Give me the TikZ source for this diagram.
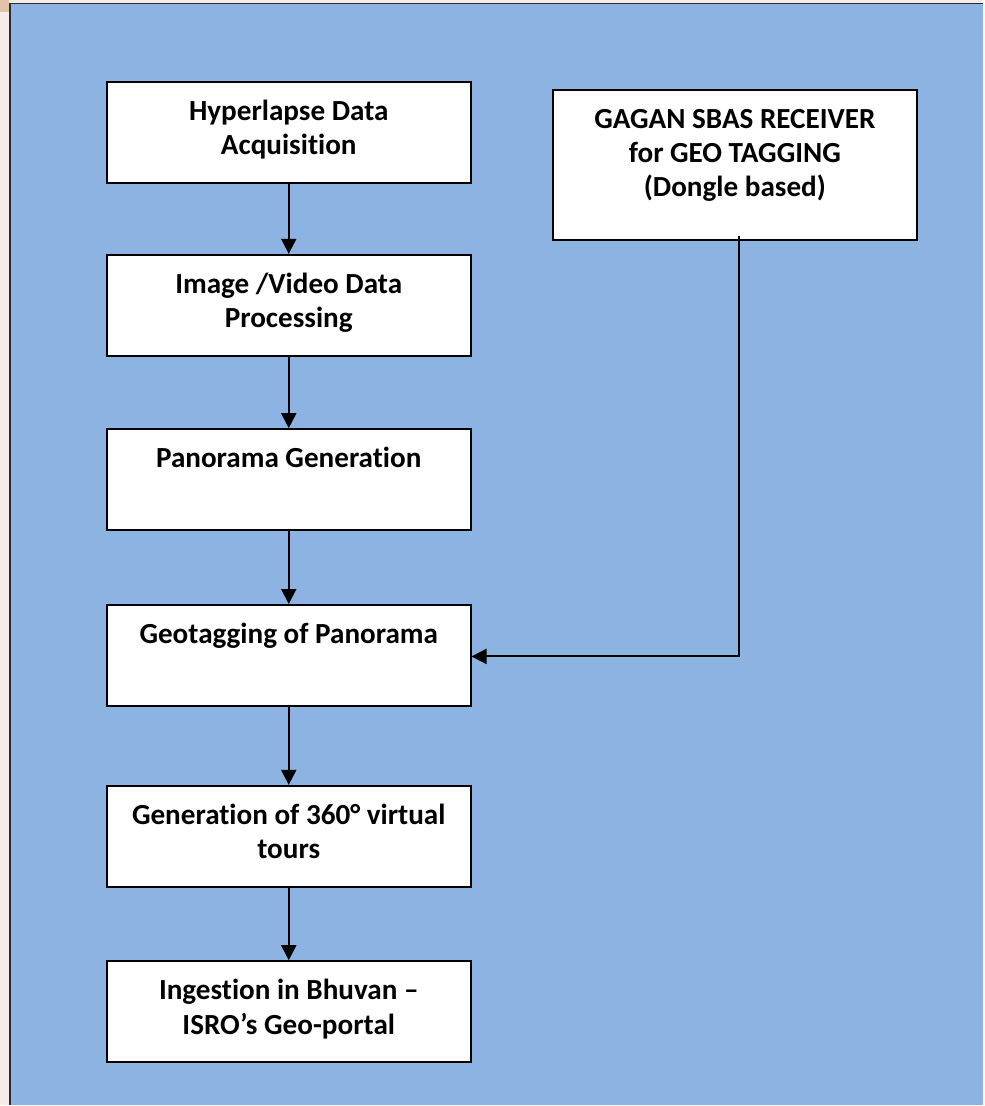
\documentclass[tikz,border=0pt]{standalone}
\usepackage{fontspec}
\setmainfont[Ligatures=NoCommon]{Carlito}
\usetikzlibrary{positioning,calc,arrows.meta}

\definecolor{pagebeige}{RGB}{246,236,231}
\definecolor{cornertan}{RGB}{226,195,168}
\definecolor{panelblue}{RGB}{141,179,226}
\definecolor{panelrim}{RGB}{40,44,52}

\tikzset{
    stage/.style={draw=black, line width=1.1pt, fill=white,
        minimum width=7.28cm, minimum height=2.02cm, inner sep=0pt},
    caption/.style={anchor=north, align=center, inner sep=0pt,
        font=\fontsize{16.6pt}{19.4pt}\selectfont\bfseries},
    flow/.style={line width=1.1pt, -{Triangle[length=0.3cm, width=0.3cm]}},
}

\begin{document}
\begin{tikzpicture}[x=0.02cm, y=-0.02cm]
    % Page and panel
    \fill[pagebeige] (0,0) rectangle (984,1106);
    \fill[cornertan] (0,0) rectangle (9,12);
    \fill[panelblue] (10,3) rectangle (984,1106);
    \draw[panelrim, line width=1.1pt] (10,1106) -- (10,3.5) -- (984,3.5);
    \useasboundingbox (0,0) rectangle (984,1106);

    % Main chain of stages
    \node[stage] (acq)  at (289,132.5) {};
    \node[stage] (proc) at (289,305.5) {};
    \node[stage] (pano) at (289,480)   {};
    \node[stage] (geo)  at (289,656)   {};
    \node[stage] (tour) at (289,837)   {};
    \node[stage] (bhuv) at (289,1012.5) {};

    % Receiver box
    \node[stage, minimum width=7.3cm, minimum height=3cm] (gagan) at (735.5,165) {};

    % Texts, set at the top of each box
    \node[caption] (acq-txt)  at ([yshift=-0.38cm]acq.north)  {Hyperlapse Data\\Acquisition};
    \node[caption] (proc-txt) at ([yshift=-0.38cm]proc.north) {Image /Video Data\\Processing};
    \node[caption] (pano-txt) at ([yshift=-0.38cm]pano.north) {Panorama Generation};
    \node[caption] (geo-txt)  at ([yshift=-0.38cm]geo.north)  {Geotagging of Panorama};
    \node[caption] (tour-txt) at ([yshift=-0.38cm]tour.north) {Generation of 360° virtual\\tours};
    \node[caption] (bhuv-txt) at ([yshift=-0.38cm]bhuv.north) {Ingestion in Bhuvan –\\ISRO’s Geo-portal};
    \node[caption] (gagan-txt) at ([yshift=-0.4cm]gagan.north) {GAGAN SBAS RECEIVER\\for GEO TAGGING\\(Dongle based)};

    % Arrows down the chain
    \draw[flow] (acq.south)  -- (proc.north);
    \draw[flow] (proc.south) -- (pano.north);
    \draw[flow] (pano.south) -- (geo.north);
    \draw[flow] (geo.south)  -- (tour.north);
    \draw[flow] (tour.south) -- (bhuv.north);

    % Geotag feed from the receiver
    \coordinate (feed) at (740,657);
    \draw[flow] ([yshift=0.1cm]gagan.south -| feed) -- (feed) -- (geo.east |- feed);
\end{tikzpicture}
\end{document}
